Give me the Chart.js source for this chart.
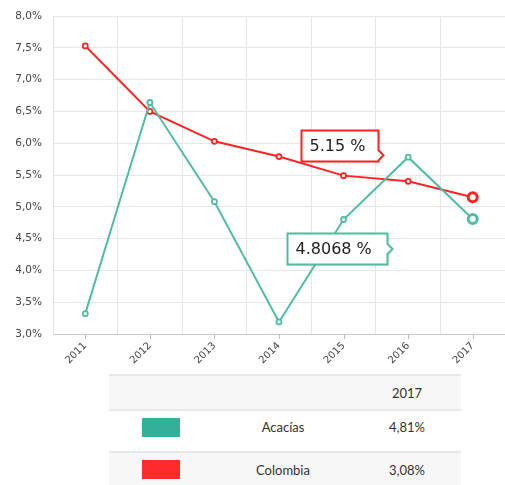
<!DOCTYPE html>
<html>
<head>
<meta charset="utf-8">
<script src="https://cdn.jsdelivr.net/npm/chart.js@4.4.1/dist/chart.umd.min.js"></script>
<style>
  html, body { margin:0; padding:0; background:#fff; width:505px; height:485px; overflow:hidden; }
  #wrap { position:absolute; left:0; top:0; width:505px; height:370px; }
  table { position:absolute; left:109px; top:374px; width:352px; border-collapse:collapse;
          font-family: Lato, "Noto Sans", sans-serif; font-size:13px; color:#333; }
  td { text-align:center; padding:0; border-top:2px solid #e8e8e8; }
  tr.h td { height:33px; background:#f7f7f7; }
  tr.a td { height:32px; padding-bottom:8px; background:#fff; }
  tr.c td { height:33px; background:#f7f7f7; }
  .sw { display:inline-block; width:38px; height:19px; vertical-align:middle; }
</style>
</head>
<body>
<div id="wrap"><canvas id="c" width="505" height="370"></canvas></div>
<table>
  <tr class="h"><td style="width:104px"></td><td style="width:140px"></td><td id="hy"></td></tr>
  <tr class="a"><td><span class="sw" id="sw0"></span></td><td id="n0"></td><td id="v0"></td></tr>
  <tr class="c"><td><span class="sw" id="sw1"></span></td><td id="n1"></td><td id="v1"></td></tr>
</table>
<script>
const years = ["2011","2012","2013","2014","2015","2016","2017"];
const acacias = [3.32, 6.64, 5.08, 3.19, 4.80, 5.78, 4.8068];
const colombia = [7.53, 6.50, 6.03, 5.79, 5.49, 5.40, 5.15];
const seriesNames = ["Acacías", "Colombia"];
const seriesColors = ["#4fbca3", "#ff2222"];
const swatchColors = ["#33b09a", "#ff2a2a"];
const tooltipLabels = ["4.8068 %", "5.15 %"];
const tableYear = "2017";
const tableValues = ["4,81%", "3,08%"];

document.getElementById('hy').textContent = tableYear;
for (let i = 0; i < 2; i++) {
  document.getElementById('sw' + i).style.background = swatchColors[i];
  document.getElementById('n' + i).textContent = seriesNames[i];
  document.getElementById('v' + i).textContent = tableValues[i];
}

function pointStyleArr(n, small, big) {
  const a = new Array(n).fill(small); a[n - 1] = big; return a;
}

const noScalePadding = {
  id: 'noScalePadding',
  beforeLayout(chart) {
    Object.values(chart.scales).forEach(s => {
      s.getPadding = () => ({ left: 0, top: 0, right: 0, bottom: 0 });
    });
  }
};

const tickMarks = {
  id: 'tickMarks',
  afterDraw(chart) {
    const x = chart.scales.x, ctx = chart.ctx;
    ctx.save();
    ctx.strokeStyle = '#bbbbbb'; ctx.lineWidth = 1;
    for (let i = 0; i < years.length; i++) {
      const px = Math.round(x.getPixelForValue(i)) + 0.5;
      ctx.beginPath(); ctx.moveTo(px, x.top); ctx.lineTo(px, x.top + 5); ctx.stroke();
    }
    ctx.restore();
  }
};

const callouts = {
  id: 'callouts',
  afterDatasetsDraw(chart) {
    const ctx = chart.ctx;
    const specs = [
      { ds: 0, dx: -186, dy: 14, w: 100, h: 31, arrowY: 0.5, color: seriesColors[0] },
      { ds: 1, dx: -172, dy: -67, w: 77, h: 31, arrowY: 0.8, color: seriesColors[1] }
    ];
    specs.forEach(s => {
      const meta = chart.getDatasetMeta(s.ds);
      const p = meta.data[meta.data.length - 1];
      const x = Math.round(p.x + s.dx) + 0.5, y = Math.round(p.y + s.dy) + 0.5;
      const ay = y + s.h * s.arrowY;
      ctx.save();
      ctx.shadowColor = 'rgba(0,0,0,0.15)'; ctx.shadowBlur = 3; ctx.shadowOffsetX = 1; ctx.shadowOffsetY = 1;
      ctx.beginPath();
      ctx.moveTo(x, y);
      ctx.lineTo(x + s.w, y);
      ctx.lineTo(x + s.w, ay - 5);
      ctx.lineTo(x + s.w + 5, ay);
      ctx.lineTo(x + s.w, ay + 5);
      ctx.lineTo(x + s.w, y + s.h);
      ctx.lineTo(x, y + s.h);
      ctx.closePath();
      ctx.fillStyle = '#fff'; ctx.fill();
      ctx.shadowColor = 'transparent';
      ctx.strokeStyle = s.color; ctx.lineWidth = 2; ctx.stroke();
      ctx.fillStyle = '#222';
      ctx.font = '16px "DejaVu Sans", Verdana, sans-serif';
      ctx.textBaseline = 'middle'; ctx.textAlign = 'left';
      ctx.fillText(tooltipLabels[s.ds], x + 8, y + s.h / 2 + 1);
      ctx.restore();
    });
  }
};

new Chart(document.getElementById('c'), {
  type: 'line',
  data: {
    labels: years,
    datasets: [
      { label: seriesNames[0], data: acacias, borderColor: seriesColors[0], backgroundColor: '#fff',
        borderWidth: 2, tension: 0,
        pointRadius: pointStyleArr(years.length, 2.5, 4.5),
        pointBorderWidth: pointStyleArr(years.length, 1.8, 3),
        pointBackgroundColor: '#fff', pointBorderColor: seriesColors[0] },
      { label: seriesNames[1], data: colombia, borderColor: seriesColors[1], backgroundColor: '#fff',
        borderWidth: 2, tension: 0,
        pointRadius: pointStyleArr(years.length, 2.5, 4.5),
        pointBorderWidth: pointStyleArr(years.length, 1.8, 3),
        pointBackgroundColor: '#fff', pointBorderColor: seriesColors[1] }
    ]
  },
  options: {
    responsive: false, animation: false,
    layout: { autoPadding: false, padding: { top: 16, right: 0, left: 0, bottom: 0 } },
    plugins: { legend: { display: false }, tooltip: { enabled: false } },
    scales: {
      x: {
        offset: true,
        grid: { offset: true, color: '#e6e6e6', drawTicks: false },
        border: { color: '#c8c8c8' },
        ticks: { color: '#444', font: { family: '"DejaVu Sans", Verdana, sans-serif', size: 10 },
                 maxRotation: 45, minRotation: 45, padding: 6 },
        afterFit(s) { s.height = 36; }
      },
      y: {
        min: 3, max: 8,
        grid: { color: '#e6e6e6', drawTicks: false },
        border: { color: '#e0e0e0' },
        ticks: { stepSize: 0.5, color: '#444', padding: 11,
                 font: { family: '"DejaVu Sans", Verdana, sans-serif', size: 10.5 },
                 callback: v => v.toFixed(1).replace('.', ',') + '%' },
        afterFit(s) { s.width = 53; }
      }
    }
  },
  plugins: [noScalePadding, tickMarks, callouts]
});
</script>
</body>
</html>
